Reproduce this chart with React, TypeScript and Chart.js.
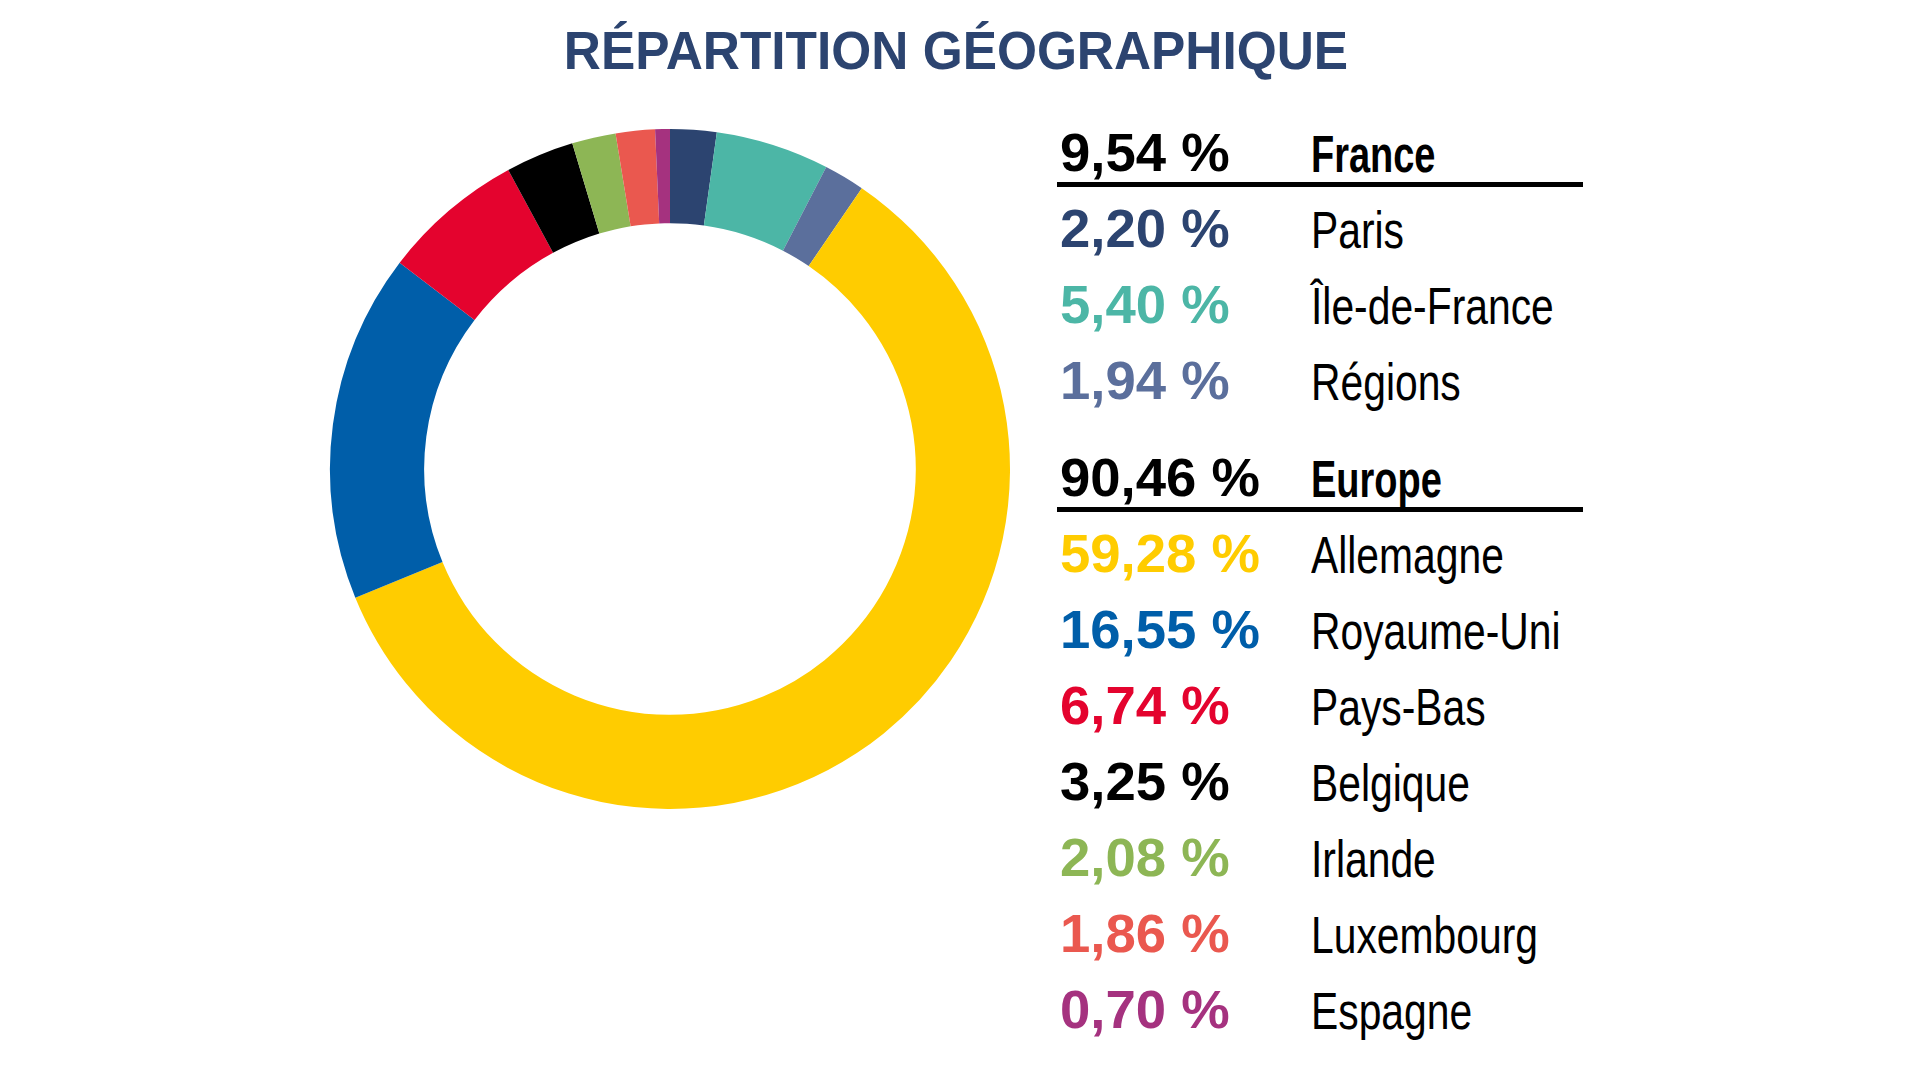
import React, { useEffect, useRef } from "react";
import { Chart, registerables } from "chart.js";

Chart.register(...registerables);

const title = "RÉPARTITION GÉOGRAPHIQUE";
const categories = ["Paris", "Île-de-France", "Régions", "Allemagne", "Royaume-Uni", "Pays-Bas", "Belgique", "Irlande", "Luxembourg", "Espagne"];
const values = [2.2, 5.4, 1.94, 59.28, 16.55, 6.74, 3.25, 2.08, 1.86, 0.7];
const colors = ["#2c4470", "#4cb6a6", "#5b6f9c", "#ffcc00", "#005ea9", "#e4032e", "#000000", "#8db655", "#ea584f", "#a5327f"];
const groupOf = ["France", "France", "France", "Europe", "Europe", "Europe", "Europe", "Europe", "Europe", "Europe"];
const groupNames = ["France", "Europe"];
const groupTotals = [9.54, 90.46];

const fmt = (v: number) => v.toFixed(2).replace(".", ",") + " %";

const FONT = "'Liberation Sans', Arial, sans-serif";
const PCT_SIZE = 54.5;
const NAME_SIZE = 52;
const ASC = 0.8465;

function Txt(props: { x: number; base: number; size: number; bold: boolean; color: string; sx: number; text: string }) {
  const { x, base, size, bold, color, sx, text } = props;
  return (
    <div
      style={{
        position: "absolute",
        left: x,
        top: base - ASC * size,
        fontFamily: FONT,
        fontWeight: bold ? 700 : 400,
        fontSize: size,
        lineHeight: size + "px",
        color,
        whiteSpace: "nowrap",
        transform: `scaleX(${sx})`,
        transformOrigin: "left center",
      }}
    >
      {text}
    </div>
  );
}

export default function App() {
  const ref = useRef<HTMLCanvasElement | null>(null);

  useEffect(() => {
    const prev = document.body.style.margin;
    document.body.style.margin = "0";
    if (!ref.current) return;
    const chart = new Chart(ref.current, {
      type: "doughnut",
      data: {
        labels: categories,
        datasets: [
          {
            data: values,
            backgroundColor: colors,
            borderWidth: 0,
          },
        ],
      },
      options: {
        responsive: false,
        animation: false,
        radius: 340,
        cutout: "72.3%",
        rotation: 0,
        layout: { padding: 0 },
        plugins: {
          legend: { display: false },
          tooltip: { enabled: false },
          title: { display: false },
        },
      },
    });
    return () => {
      chart.destroy();
      document.body.style.margin = prev;
    };
  }, []);

  const rows: React.ReactNode[] = [];
  let y = 172;
  groupNames.forEach((g, gi) => {
    rows.push(<Txt key={"gp" + gi} x={1060} base={y} size={PCT_SIZE} bold color="#000" sx={1.0} text={fmt(groupTotals[gi])} />);
    rows.push(<Txt key={"gn" + gi} x={1311} base={y} size={NAME_SIZE} bold color="#000" sx={0.73} text={g} />);
    rows.push(<div key={"gl" + gi} style={{ position: "absolute", left: 1057, top: y + 10, width: 526, height: 5, background: "#000" }} />);
    categories.forEach((c, i) => {
      if (groupOf[i] !== g) return;
      y += 76;
      rows.push(<Txt key={"p" + i} x={1060} base={y} size={PCT_SIZE} bold color={colors[i]} sx={1.0} text={fmt(values[i])} />);
      rows.push(<Txt key={"n" + i} x={1311} base={y} size={NAME_SIZE} bold={false} color="#000" sx={0.785} text={c} />);
    });
    y += 97;
  });

  return (
    <div style={{ position: "absolute", left: 0, top: 0, width: 1920, height: 1080, background: "#fff", overflow: "hidden" }}>
      <div
        style={{
          position: "absolute",
          left: 456,
          top: 70 - ASC * 54.5,
          width: 1000,
          textAlign: "center",
          fontFamily: FONT,
          fontWeight: 700,
          fontSize: 54.5,
          lineHeight: "54.5px",
          color: "#2c4470",
          whiteSpace: "nowrap",
          transform: "scaleX(0.943)",
          transformOrigin: "center center",
        }}
      >
        {title}
      </div>
      <canvas ref={ref} width={700} height={700} style={{ position: "absolute", left: 320, top: 119, width: 700, height: 700 }} />
      {rows}
    </div>
  );
}
